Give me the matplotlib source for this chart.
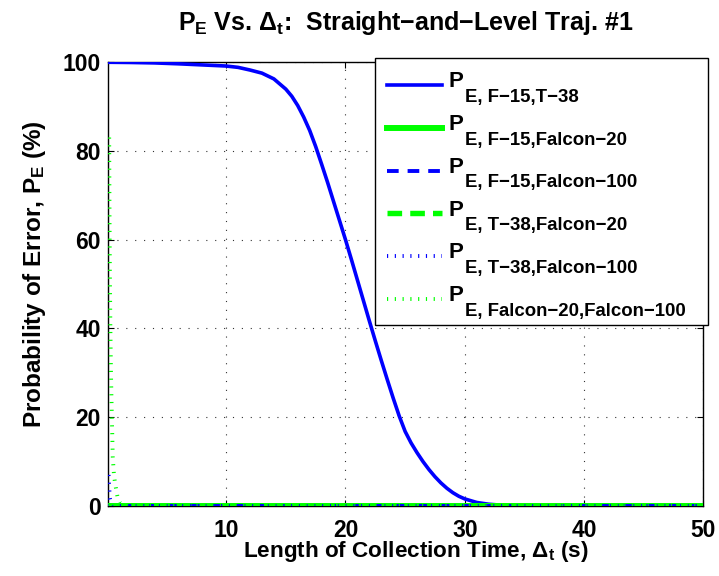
import numpy as np
import matplotlib
matplotlib.use("Agg")
import matplotlib.pyplot as plt
from matplotlib.lines import Line2D
from matplotlib.patches import Rectangle
from matplotlib.legend_handler import HandlerLine2D

plt.rcParams['font.family'] = ['Liberation Sans', 'DejaVu Sans']
plt.rcParams['font.weight'] = 'bold'
plt.rcParams['mathtext.fontset'] = 'custom'
plt.rcParams['mathtext.rm'] = 'Liberation Sans:bold'
plt.rcParams['mathtext.it'] = 'Liberation Sans:bold'
plt.rcParams['mathtext.bf'] = 'Liberation Sans:bold'
plt.rcParams['mathtext.sf'] = 'Liberation Sans:bold'

# Collection time (s) and probability of error (%) for each aircraft pair
t_main = [0.1, 2, 4, 6, 8, 10, 11, 12, 13, 14, 15, 15.5, 16, 16.5, 17, 17.5,
          18, 18.5, 19, 19.5, 20, 20.5, 21, 21.5, 22, 22.5, 23, 23.5, 24,
          24.5, 25, 25.5, 26, 26.5, 27, 27.5, 28, 28.5, 29, 29.5, 30, 31, 32,
          33, 35, 40, 50]
pe_f15_t38 = [99.95, 99.9, 99.8, 99.6, 99.35, 99.1, 98.8, 98.2, 97.5, 96.2,
              93.9, 92.3, 90.2, 87.6, 84.6, 81.0, 77.0, 72.9, 68.6, 64.3,
              60.0, 55.5, 50.9, 46.3, 41.7, 37.2, 32.8, 28.5, 24.3, 20.3,
              16.8, 14.2, 12.0, 10.0, 8.2, 6.6, 5.2, 4.0, 3.0, 2.2, 1.6, 0.8,
              0.4, 0.2, 0.05, 0.0, 0.0]

t_zero = [0.1, 0.5, 1, 2, 5, 10, 20, 30, 40, 50]
pe_f15_falcon20 = [0.0, 0.0, 0.0, 0.0, 0.0, 0.0, 0.0, 0.0, 0.0, 0.0]
pe_f15_falcon100 = [0.0, 0.0, 0.0, 0.0, 0.0, 0.0, 0.0, 0.0, 0.0, 0.0]
pe_t38_falcon20 = [0.0, 0.0, 0.0, 0.0, 0.0, 0.0, 0.0, 0.0, 0.0, 0.0]

t_t38_falcon100 = [0.15, 0.2, 0.25, 0.35, 0.5, 1, 2, 10, 30, 50]
pe_t38_falcon100 = [7.0, 4.5, 1.8, 0.5, 0.0, 0.0, 0.0, 0.0, 0.0, 0.0]

t_falcon20_falcon100 = [0.2, 0.23, 0.26, 0.3, 0.35, 0.4, 0.45, 0.5, 0.6, 0.7,
                        0.9, 1.1, 1.4, 2, 10, 50]
pe_falcon20_falcon100 = [83, 65, 52, 40, 30, 23, 17, 11, 7, 5, 2, 0.8, 0.2,
                         0.0, 0.0, 0.0]

legend_subs = [
    'E, F−15,T−38',
    'E, F−15,Falcon−20',
    'E, F−15,Falcon−100',
    'E, T−38,Falcon−20',
    'E, T−38,Falcon−100',
    'E, Falcon−20,Falcon−100',
]

x_ticks = [10, 20, 30, 40, 50]
y_ticks = [0, 20, 40, 60, 80, 100]

blue = '#0000ff'
green = '#00ff00'


class LoweredLine(HandlerLine2D):
    """Legend line handler that shifts the sample line vertically."""

    def __init__(self, dy, **kw):
        super().__init__(**kw)
        self.dy = dy

    def create_artists(self, *args, **kwargs):
        arts = super().create_artists(*args, **kwargs)
        for a in arts:
            a.set_ydata(np.asarray(a.get_ydata(), float) + self.dy)
        return arts


fig = plt.figure(figsize=(7.19, 5.76), dpi=100)
ax = fig.add_axes([0.1502, 0.1215, 0.8282, 0.7708])

lines = []
lines += ax.plot(t_main, pe_f15_t38, color=blue, lw=2.6, ls='-')
lines += ax.plot(t_zero, pe_f15_falcon20, color=green, lw=4.3, ls='-')
lines += ax.plot(t_zero, pe_f15_falcon100, color=blue, lw=2.8,
                 ls=(0, (3.0, 2.3)), dash_capstyle='butt')
lines += ax.plot(t_zero, pe_t38_falcon20, color=green, lw=3.9,
                 ls=(0, (2.7, 1.5)), dash_capstyle='butt')
lines += ax.plot(t_t38_falcon100, pe_t38_falcon100, color=blue, lw=2.8,
                 ls=(0, (0.3, 1.7)), dash_capstyle='butt')
lines += ax.plot(t_falcon20_falcon100, pe_falcon20_falcon100, color=green, lw=2.8,
                 ls=(0, (0.3, 1.7)), dash_capstyle='butt')
for ln in lines:
    ln.set_zorder(3)

ax.set_xlim(0.1, 50)
ax.set_ylim(0, 100)
ax.set_xticks(x_ticks)
ax.set_yticks(y_ticks)
ax.tick_params(direction='in', length=4, width=0.8, top=True, right=True,
               labelsize=16.5)
ax.tick_params(axis='x', pad=9)
ax.tick_params(axis='y', pad=5)
for lbl in ax.get_xticklabels() + ax.get_yticklabels():
    lbl.set_fontweight('bold')
ax.grid(True, color='#333333', ls=(0, (1, 7)), lw=0.8)
for sp in ax.spines.values():
    sp.set_linewidth(1.0)

ax.set_title(r'$P_E$ Vs. $Δ_t$:  Straight−and−Level Traj. #1',
             fontsize=18, fontweight='bold', pad=23)
ax.set_xlabel(r'Length of Collection Time, $Δ_t$ (s)', fontsize=16.2,
              fontweight='bold')
ax.xaxis.set_label_coords(0.517, -0.075)
ax.set_ylabel(r'Probability of Error, $P_E$ (%)', fontsize=17.5,
              fontweight='bold')
ax.yaxis.set_label_coords(-0.1, 0.5225)

# legend frame box
frame = Rectangle((0.4484, 0.4077), 0.5592, 0.6013, transform=ax.transAxes,
                  facecolor='white', edgecolor='black', lw=1.0, zorder=4.9,
                  clip_on=False)
ax.add_patch(frame)

leg = ax.legend(lines, ['P'] * len(lines), loc='upper left',
                bbox_to_anchor=(0.4457, 0.4077, 0.5619, 0.6013), mode='expand',
                borderaxespad=0, fontsize=16, handlelength=2.5,
                labelspacing=0.98, handletextpad=0.3, borderpad=0.6,
                frameon=False,
                handler_map={Line2D: LoweredLine(-4.0)})
leg.set_zorder(5)

# subscripts hang below each legend "P"
for txt, sub in zip(leg.get_texts(), legend_subs):
    ax.annotate(sub, xy=(1, 0), xycoords=txt, xytext=(0.5, 2.5),
                textcoords='offset points', ha='left', va='top',
                fontsize=13.4, fontweight='bold', zorder=6,
                annotation_clip=False)

fig.savefig('out.png', dpi=100)
